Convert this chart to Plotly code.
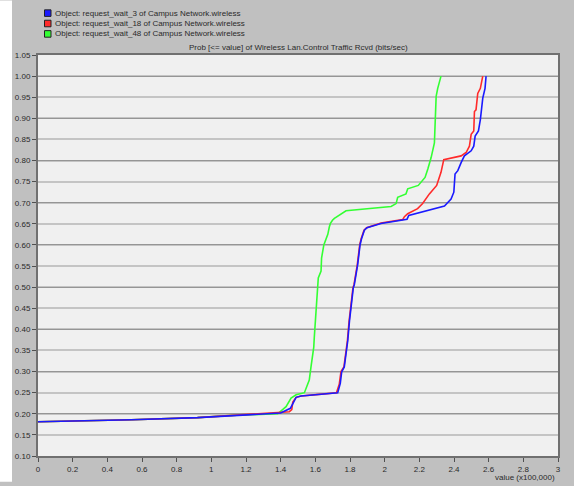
import plotly.graph_objects as go

# ---------------- data ----------------
series_names = [
    "Object: request_wait_3 of Campus Network.wireless",
    "Object: request_wait_18 of Campus Network.wireless",
    "Object: request_wait_48 of Campus Network.wireless",
]
series_colors = ["#1a1aff", "#ff2a2a", "#33ff33"]

blue_x = [0, 0.3, 0.54, 0.92, 1.11, 1.40, 1.456, 1.475, 1.489, 1.518, 1.62, 1.729, 1.744, 1.752,
          1.767, 1.777, 1.787, 1.797, 1.806, 1.819, 1.825, 1.844, 1.858, 1.866, 1.883, 1.898,
          1.979, 2.129, 2.139, 2.210, 2.345, 2.383, 2.399, 2.406, 2.422, 2.441, 2.460, 2.499,
          2.514, 2.522, 2.541, 2.552, 2.566, 2.579, 2.585]
blue_y = [0.181, 0.183, 0.186, 0.191, 0.196, 0.202, 0.213, 0.229, 0.239, 0.242, 0.246, 0.250, 0.272, 0.299,
          0.311, 0.342, 0.373, 0.420, 0.459, 0.498, 0.506, 0.553, 0.600, 0.614, 0.635, 0.641,
          0.651, 0.661, 0.670, 0.678, 0.692, 0.709, 0.725, 0.768, 0.776, 0.795, 0.811, 0.823,
          0.834, 0.858, 0.870, 0.897, 0.948, 0.971, 1.00]

red_x = [0, 0.3, 0.54, 0.92, 1.11, 1.40, 1.450, 1.464, 1.470, 1.489, 1.518, 1.62, 1.722, 1.738, 1.748,
         1.765, 1.776, 1.785, 1.795, 1.804, 1.817, 1.823, 1.842, 1.856, 1.864, 1.881, 1.896,
         1.979, 2.104, 2.114, 2.133, 2.190, 2.219, 2.258, 2.300, 2.325, 2.341, 2.441, 2.470,
         2.489, 2.499, 2.514, 2.518, 2.527, 2.537, 2.552, 2.566]
red_y = [0.181, 0.183, 0.186, 0.191, 0.196, 0.202, 0.205, 0.210, 0.228, 0.239, 0.242, 0.246, 0.250, 0.270, 0.300,
         0.311, 0.342, 0.373, 0.420, 0.459, 0.498, 0.506, 0.553, 0.600, 0.614, 0.635, 0.641,
         0.652, 0.660, 0.667, 0.674, 0.686, 0.698, 0.721, 0.741, 0.772, 0.802, 0.811, 0.819,
         0.834, 0.862, 0.870, 0.916, 0.920, 0.959, 0.971, 1.00]

green_x = [0, 0.3, 0.54, 0.92, 1.11, 1.383, 1.412, 1.431, 1.460, 1.489, 1.537, 1.556, 1.565, 1.575,
           1.591, 1.594, 1.604, 1.614, 1.617, 1.633, 1.636, 1.649, 1.662, 1.672, 1.681, 1.687,
           1.700, 1.710, 1.777, 2.037, 2.066, 2.075, 2.123, 2.133, 2.194, 2.233, 2.249, 2.268,
           2.287, 2.297, 2.306, 2.325]
green_y = [0.181, 0.183, 0.186, 0.191, 0.196, 0.200, 0.210, 0.217, 0.237, 0.245, 0.250, 0.272, 0.280, 0.311,
           0.358, 0.381, 0.452, 0.498, 0.522, 0.538, 0.569, 0.600, 0.616, 0.625, 0.643, 0.651,
           0.659, 0.663, 0.681, 0.691, 0.698, 0.713, 0.721, 0.733, 0.741, 0.760, 0.780, 0.807,
           0.842, 0.952, 0.971, 1.00]

title_text = "Prob [<= value] of Wireless Lan.Control Traffic Rcvd (bits/sec)"
x_title = "value (x100,000)"

# ---------------- figure ----------------
W, H = 574, 486
L, R, T, B = 38, 16, 55, 26
PW, PH = W - L - R, H - T - B
FONT = "Liberation Sans, Arial, sans-serif"
TXT = "#2a2a2a"


def px_x(p):
    return (p - L) / PW


def px_y(p):
    return (H - B - p) / PH


fig = go.Figure()
# draw order: green, red, blue (blue on top)
for xs, ys, idx in [(green_x, green_y, 2), (red_x, red_y, 1), (blue_x, blue_y, 0)]:
    fig.add_trace(go.Scatter(x=xs, y=ys, mode="lines", name=series_names[idx],
                             line=dict(color=series_colors[idx], width=1.6),
                             showlegend=False, hoverinfo="skip"))
# dummy trace for the overlay axis carrying darker grid lines
fig.add_trace(go.Scatter(x=[None], y=[None], yaxis="y2", showlegend=False, hoverinfo="skip"))

fig.update_layout(
    width=W, height=H,
    margin=dict(l=L, r=R, t=T, b=B, pad=0),
    paper_bgcolor="#c0c0c0",
    plot_bgcolor="#f0f0f0",
    font=dict(family=FONT, size=8, color=TXT),
    showlegend=False,
    xaxis=dict(range=[0, 3], tick0=0, dtick=0.2, showgrid=False, zeroline=False,
               showline=True, linecolor="#707070", linewidth=2, mirror=True,
               ticks="outside", ticklen=4, tickcolor="#505050", tickwidth=1,
               tickfont=dict(size=8, color=TXT)),
    yaxis=dict(range=[0.10, 1.05], tick0=0.10, dtick=0.05, tickformat=".2f",
               showgrid=True, gridcolor="#c4c4c4", gridwidth=2, zeroline=False,
               showline=True, linecolor="#707070", linewidth=2, mirror=True,
               ticks="outside", ticklen=4, tickcolor="#505050", tickwidth=1,
               tickfont=dict(size=8, color=TXT)),
    yaxis2=dict(range=[0.10, 1.05], tick0=0.10, dtick=0.10, overlaying="y",
                showgrid=True, gridcolor="#959595", gridwidth=1, zeroline=False,
                showticklabels=False, ticks="", showline=False),
)

# white strip on the far left
fig.add_shape(type="rect", xref="paper", yref="paper", x0=px_x(0), x1=px_x(12), y0=px_y(H), y1=px_y(0),
              fillcolor="#ffffff", line=dict(width=0), layer="below")

# custom legend
for i, (name, col) in enumerate(zip(series_names, series_colors)):
    cy = 12.7 + i * 10.5
    fig.add_shape(type="rect", xref="paper", yref="paper",
                  x0=px_x(44.5), x1=px_x(51), y0=px_y(cy + 3.3), y1=px_y(cy - 3.3),
                  fillcolor=col, line=dict(color="#202020", width=1))
    fig.add_annotation(text=name, xref="paper", yref="paper", x=px_x(53), y=px_y(cy),
                       xanchor="left", yanchor="middle", showarrow=False,
                       font=dict(size=8, color=TXT, family=FONT))

# plot title
fig.add_annotation(text=title_text, xref="paper", yref="paper", x=0.5, y=px_y(47.5),
                   xanchor="center", yanchor="middle", showarrow=False,
                   font=dict(size=8, color=TXT, family=FONT))
# x axis title
fig.add_annotation(text=x_title, xref="paper", yref="paper", x=px_x(557), y=px_y(482),
                   xanchor="right", yanchor="middle", showarrow=False,
                   font=dict(size=8, color=TXT, family=FONT))

fig.write_html("out.html",
               config={"displayModeBar": False},
               post_script="document.body.style.margin='0';document.body.style.padding='0';")
